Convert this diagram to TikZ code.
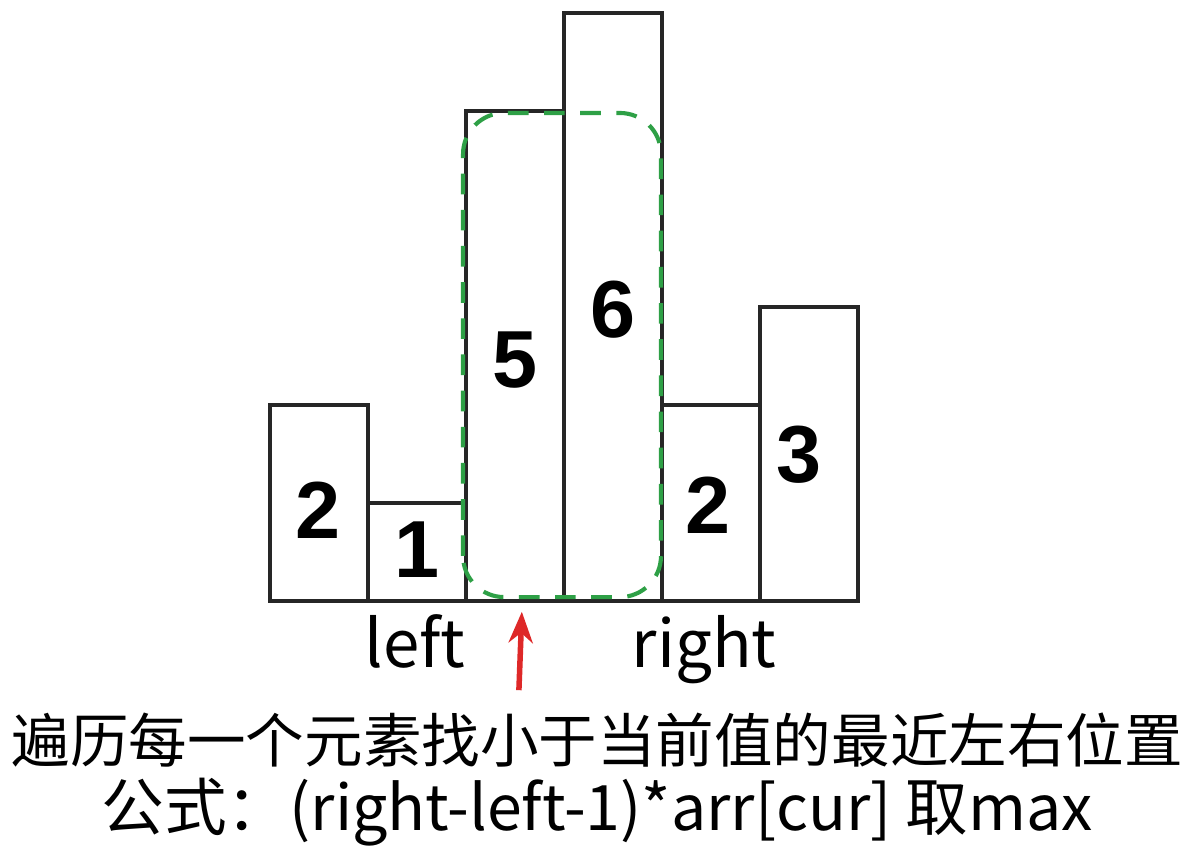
\documentclass[tikz,border=0pt]{standalone}
\usepackage{fontspec}
\usetikzlibrary{arrows.meta}
\newfontfamily\cjk{Noto Sans CJK SC}
\newfontfamily\numfont{Liberation Sans}

\definecolor{barcolor}{RGB}{38,38,38}
\definecolor{boxgreen}{RGB}{46,160,70}
\definecolor{arrowred}{RGB}{222,40,40}

\tikzset{
  bar/.style={draw=barcolor, line width=1.2pt},
  barnum/.style={font=\numfont\bfseries\fontsize{23.5}{23.5}\selectfont},
  hand/.style={font=\cjk\fontsize{17}{17}\selectfont, inner sep=0pt}
}

\begin{document}
\begin{tikzpicture}
        \useasboundingbox (-2.755,-2.531) rectangle (9.429,6.133);

        % Draw the bars
        \draw[bar] (0,0) rectangle (1,2);
        \draw[bar] (1,0) rectangle (2,1);
        \draw[bar] (2,0) rectangle (3,5);
        \draw[bar] (3,0) rectangle (4,6);
        \draw[bar] (4,0) rectangle (5,2);
        \draw[bar] (5,0) rectangle (6,3);

        % Add the heights
        \node[barnum] (h1) at (0.49,0.93) {2};
        \node[barnum] (h2) at (1.50,0.52) {1};
        \node[barnum] (h3) at (2.50,2.46) {5};
        \node[barnum] (h4) at (3.50,2.97) {6};
        \node[barnum] (h5) at (4.47,0.98) {2};
        \node[barnum] (h6) at (5.40,1.49) {3};

        % Dashed box round the widest area
        \draw[boxgreen, line width=1.2pt, dash pattern=on 6pt off 4.5pt, rounded corners=0.42cm]
            (1.97,0.04) rectangle (3.99,4.98);

        % Pointer to the current bar
        \coordinate (curtail) at (2.54,-0.91);
        \coordinate (cur) at (2.57,-0.11);
        \draw[arrowred, line width=1.6pt, -{Stealth[length=9pt, width=7pt]}] (curtail) -- (cur);

        % Labels for both ends
        \node[hand, anchor=base, font=\cjk\fontsize{19}{19}\selectfont] (left) at (1.48,-0.68) {left};
        \node[hand, anchor=base, font=\cjk\fontsize{19}{19}\selectfont] (right) at (4.43,-0.68) {right};

        % Caption
        \node[hand] (line1) at (3.34,-1.42) {遍历每一个元素找小于当前值的最近左右位置};
        \node[hand, font=\cjk\fontsize{18.2}{18.2}\selectfont] (line2) at (3.34,-2.15) {公式：(right-left-1)*arr[cur] 取max};
    \end{tikzpicture}
\end{document}
